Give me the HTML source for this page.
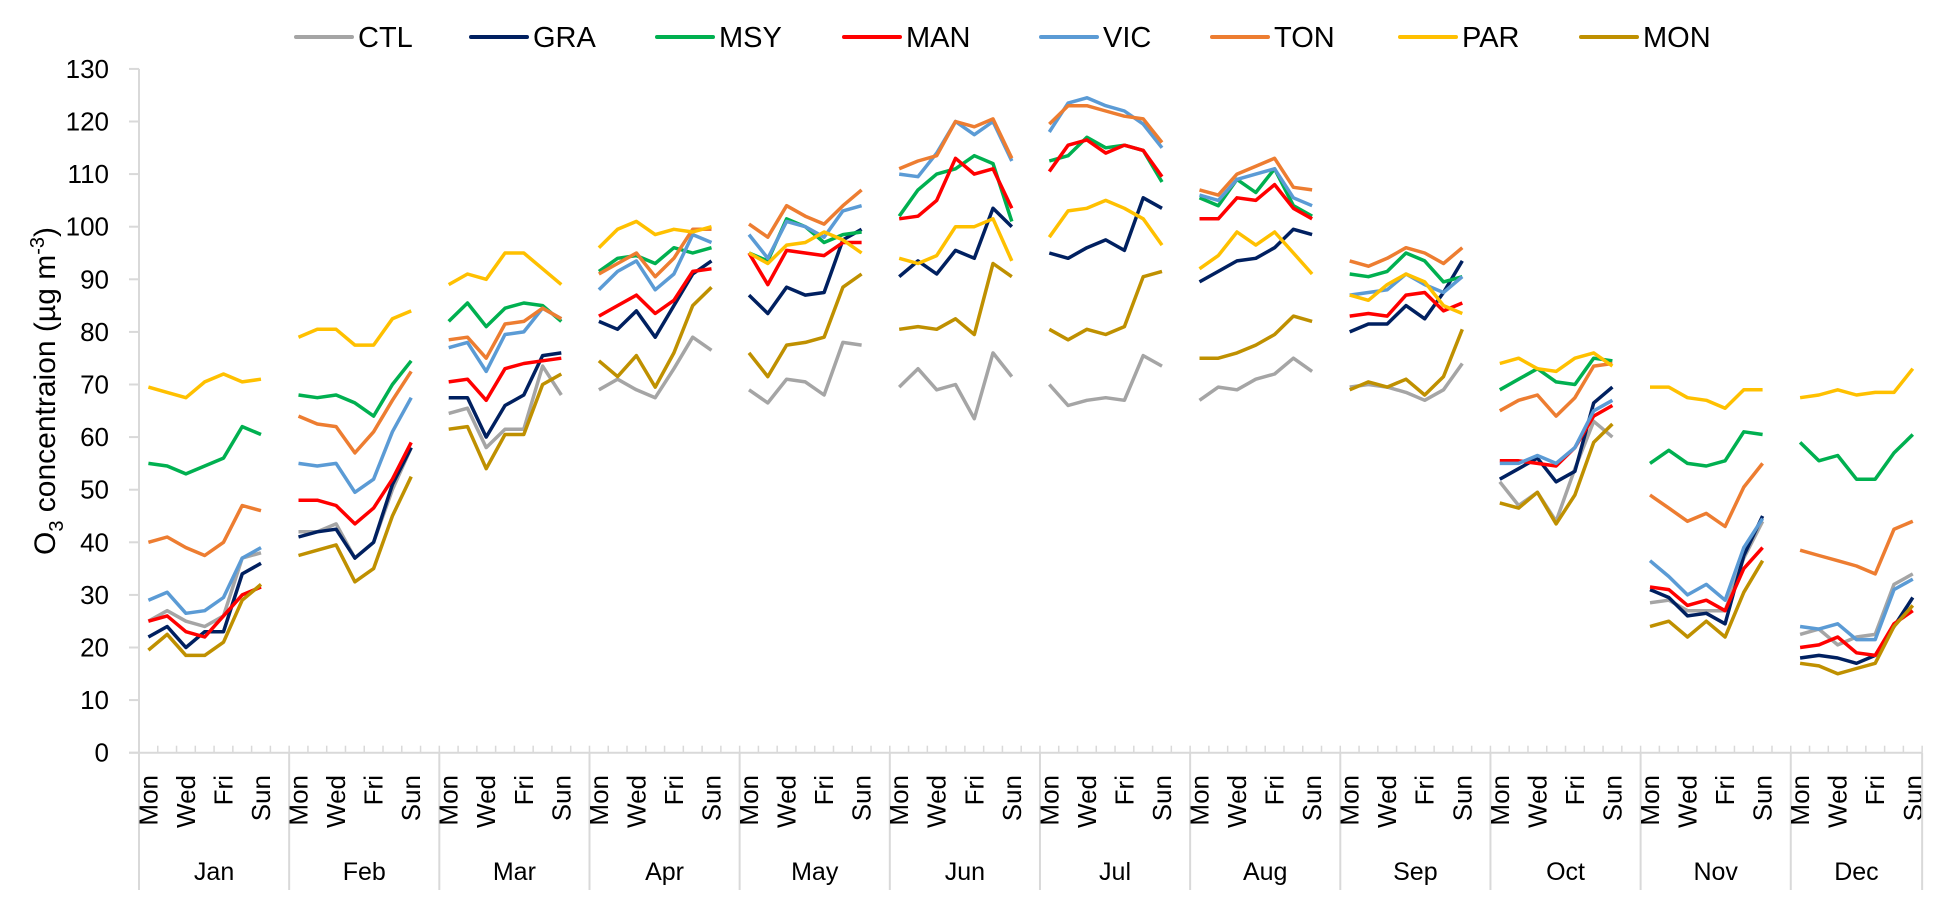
<!DOCTYPE html>
<html><head><meta charset="utf-8">
<style>
html,body{margin:0;padding:0;background:#fff;}
svg{display:block;font-family:"Liberation Sans",Arial,sans-serif;}
</style></head>
<body>
<svg id="chart" width="1949" height="915" viewBox="0 0 1949 915" xmlns="http://www.w3.org/2000/svg">
<g id="legend"></g>
<g id="axes"></g>
<g id="series"></g>
<text transform="translate(55,391) rotate(-90)" text-anchor="middle" font-size="30" fill="#000">O<tspan font-size="20" dy="8">3</tspan><tspan dy="-8"> concentraion (µg m</tspan><tspan font-size="20" dy="-11">-3</tspan><tspan dy="11">)</tspan></text>
</svg>
<script>
const months = ["Jan","Feb","Mar","Apr","May","Jun","Jul","Aug","Sep","Oct","Nov","Dec"];
const days = ["Mon","Tue","Wed","Thu","Fri","Sat","Sun"];
const yTicks = [0,10,20,30,40,50,60,70,80,90,100,110,120,130];
const seriesNames = ["CTL","GRA","MSY","MAN","VIC","TON","PAR","MON"];
const seriesColors = ["#a5a5a5","#002060","#00b050","#ff0000","#5b9bd5","#ed7d31","#ffc000","#bf9000"];
const CTL = [[25,27,25,24,26,37,38],[42,42,43.5,37,40,50,58],[64.5,65.5,58,61.5,61.5,73.5,68],[69,71,69,67.5,73,79,76.5],[69,66.5,71,70.5,68,78,77.5],[69.5,73,69,70,63.5,76,71.5],[70,66,67,67.5,67,75.5,73.5],[67,69.5,69,71,72,75,72.5],[69.5,70,69.5,68.5,67,69,74],[51.5,47,49.5,44,54,63,60],[28.5,29,27,27,27,37,44],[22.5,23.5,20.5,22,22.5,32,34]];
const GRA = [[22,24,20,23,23,34,36],[41,42,42.5,37,40,51,58],[67.5,67.5,60,66,68,75.5,76],[82,80.5,84,79,85,91,93.5],[87,83.5,88.5,87,87.5,97.5,99.5],[90.5,93.5,91,95.5,94,103.5,100],[95,94,96,97.5,95.5,105.5,103.5],[89.5,91.5,93.5,94,96,99.5,98.5],[80,81.5,81.5,85,82.5,87.5,93.5],[52,54,56,51.5,53.5,66.5,69.5],[31,29.5,26,26.5,24.5,37.5,45],[18,18.5,18,17,18.5,24,29.5]];
const MSY = [[55,54.5,53,54.5,56,62,60.5],[68,67.5,68,66.5,64,70,74.5],[82,85.5,81,84.5,85.5,85,82],[91.5,94,94.5,93,96,95,96],[95,93.5,101.5,100,97,98.5,99],[102,107,110,111,113.5,112,101],[112.5,113.5,117,115,115.5,114.5,108.5],[105.5,104,109,106.5,111,104,102],[91,90.5,91.5,95,93.5,89.5,90.5],[69,71,73,70.5,70,75,74.5],[55,57.5,55,54.5,55.5,61,60.5],[59,55.5,56.5,52,52,57,60.5]];
const MAN = [[25,26,23,22,26,30,31.5],[48,48,47,43.5,46.5,52,59],[70.5,71,67,73,74,74.5,75],[83,85,87,83.5,86,91.5,92],[95,89,95.5,95,94.5,97,97],[101.5,102,105,113,110,111,103.5],[110.5,115.5,116.5,114,115.5,114.5,109.5],[101.5,101.5,105.5,105,108,103.5,101.5],[83,83.5,83,87,87.5,84,85.5],[55.5,55.5,55,54.5,58,64,66],[31.5,31,28,29,27,35,39],[20,20.5,22,19,18.5,24.5,27]];
const VIC = [[29,30.5,26.5,27,29.5,37,39],[55,54.5,55,49.5,52,61,67.5],[77,78,72.5,79.5,80,84.5,82.5],[88,91.5,93.5,88,91,98.5,97],[98.5,94,101,100,98,103,104],[110,109.5,114,120,117.5,120,112.5],[118,123.5,124.5,123,122,119.5,115],[106,105,109,110,111,105.5,104],[87,87.5,88,91,89,87.5,90.5],[55,55,56.5,55,58,65,67],[36.5,33.5,30,32,29,39,44.5],[24,23.5,24.5,21.5,21.5,31,33]];
const TON = [[40,41,39,37.5,40,47,46],[64,62.5,62,57,61,67,72.5],[78.5,79,75,81.5,82,84.5,82.5],[91,93,95,90.5,94,99.5,99.5],[100.5,98,104,102,100.5,104,107],[111,112.5,113.5,120,119,120.5,113],[119.5,123,123,122,121,120.5,116],[107,106,110,111.5,113,107.5,107],[93.5,92.5,94,96,95,93,96],[65,67,68,64,67.5,73.5,74],[49,46.5,44,45.5,43,50.5,55],[38.5,37.5,36.5,35.5,34,42.5,44]];
const PAR = [[69.5,68.5,67.5,70.5,72,70.5,71],[79,80.5,80.5,77.5,77.5,82.5,84],[89,91,90,95,95,92,89],[96,99.5,101,98.5,99.5,99,100],[95,93,96.5,97,99,97.5,95],[94,93,94.5,100,100,101.5,93.5],[98,103,103.5,105,103.5,101.5,96.5],[92,94.5,99,96.5,99,95,91],[87,86,89,91,89.5,85,83.5],[74,75,73,72.5,75,76,73.5],[69.5,69.5,67.5,67,65.5,69,69],[67.5,68,69,68,68.5,68.5,73]];
const MON = [[19.5,22.5,18.5,18.5,21,29,32],[37.5,38.5,39.5,32.5,35,45,52.5],[61.5,62,54,60.5,60.5,70,72],[74.5,71.5,75.5,69.5,76,85,88.5],[76,71.5,77.5,78,79,88.5,91],[80.5,81,80.5,82.5,79.5,93,90.5],[80.5,78.5,80.5,79.5,81,90.5,91.5],[75,75,76,77.5,79.5,83,82],[69,70.5,69.5,71,68,71.5,80.5],[47.5,46.5,49.5,43.5,49,59,62.5],[24,25,22,25,22,30.5,36.5],[17,16.5,15,16,17,24,28]];
const seriesData = [CTL,GRA,MSY,MAN,VIC,TON,PAR,MON];

const NS="http://www.w3.org/2000/svg";
const X0=139, CW=18.77, Y0=752.7, YS=5.26;
const catIndex=(m,d)=>m*8+d;
const xPos=(m,d)=>X0+(catIndex(m,d)+0.5)*CW;
const yPos=v=>Y0-v*YS;
const nCats=(months.length-1)*8+days.length;
const XEND=X0+nCats*CW;
function mk(tag,attrs,parent,txt){const e=document.createElementNS(NS,tag);for(const k in attrs)e.setAttribute(k,attrs[k]);if(txt!==undefined)e.textContent=txt;parent.appendChild(e);return e;}

const axes=document.getElementById('axes');
const grey="#d9d9d9";
// y axis
let ya=mk('line',{x1:X0,y1:yPos(yTicks[yTicks.length-1]),x2:X0,y2:Y0,stroke:grey,'stroke-width':2},axes);


yTicks.forEach(t=>{
  const tk=mk('line',{x1:X0-10,y1:yPos(t),x2:X0,y2:yPos(t),stroke:grey,'stroke-width':2},axes);
  
  
  const lb=mk('text',{x:X0-30,y:yPos(t)+9,'text-anchor':'end','font-size':26,fill:'#000'},axes,String(t));
  
  
});
// x axis
let xa=mk('line',{x1:X0-10,y1:Y0,x2:XEND,y2:Y0,stroke:grey,'stroke-width':2},axes);


for(let i=0;i<=nCats;i++){
  const tk=mk('line',{x1:X0+i*CW,y1:Y0-7,x2:X0+i*CW,y2:Y0,stroke:grey,'stroke-width':1.5},axes);
  
  
}
months.forEach((mo,m)=>{
  const xs=X0+m*8*CW;
  const dv=mk('line',{x1:xs,y1:Y0,x2:xs,y2:890,stroke:grey,'stroke-width':2},axes);
  
  
  const w=(m===months.length-1?days.length:8)*CW;
  const ml=mk('text',{x:xs+w/2,y:880,'text-anchor':'middle','font-size':25,fill:'#000'},axes,mo);
  
  
  days.forEach((d,di)=>{
    if(di%2!==0)return;
    const cx=xPos(m,di)+9;
    const dl=mk('text',{x:0,y:0,transform:`translate(${cx},775) rotate(-90)`,'text-anchor':'end','font-size':26,fill:'#000'},axes,d);
    
    
  });
});
const endDv=mk('line',{x1:XEND,y1:Y0,x2:XEND,y2:890,stroke:grey,'stroke-width':2},axes);



// series
const sg=document.getElementById('series');
seriesData.forEach((data,si)=>{
  const g=mk('g',{},sg);
  
  
  data.forEach((vals,m)=>{
    const pts=vals.map((v,d)=>xPos(m,d).toFixed(1)+','+yPos(v).toFixed(1)).join(' ');
    const pl=mk('polyline',{points:pts,fill:'none',stroke:seriesColors[si],'stroke-width':3.5,'stroke-linejoin':'round'},g);
    
    
  });
});

// legend
const lg=document.getElementById('legend');
const legX=[296,471,657,844,1041,1212,1400,1581];
seriesNames.forEach((n,i)=>{
  const g=mk('g',{},lg);
  
  
  mk('line',{x1:legX[i],y1:37,x2:legX[i]+56,y2:37,stroke:seriesColors[i],'stroke-width':4,'stroke-linecap':'round'},g);
  mk('text',{x:legX[i]+62,y:47,'font-size':29,fill:'#000'},g,n);
});
</script>
</body></html>
